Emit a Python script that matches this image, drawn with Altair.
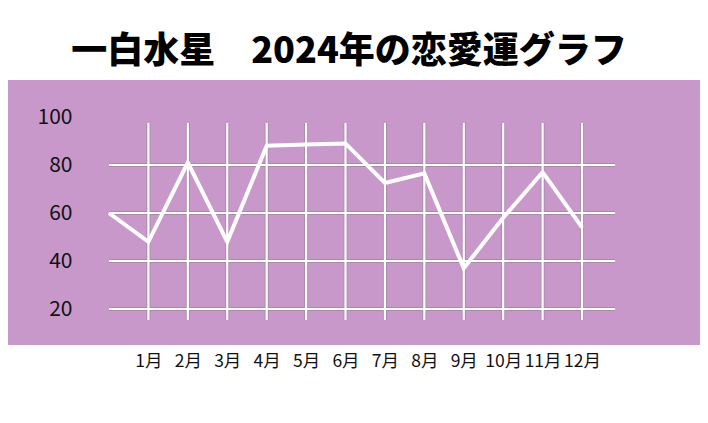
import json
import altair as alt
import pandas as pd

# ---- data ----
# index 0 is the starting point of the line (left edge of grid), 1..12 are months
point_index = [0, 1, 2, 3, 4, 5, 6, 7, 8, 9, 10, 11, 12]
luck_values = [60, 48, 81, 48, 88, 88.5, 89, 72.5, 76.5, 37, 58, 77, 54]
month_ticks = [1, 2, 3, 4, 5, 6, 7, 8, 9, 10, 11, 12]
month_labels = ["1月", "2月", "3月", "4月", "5月", "6月",
                "7月", "8月", "9月", "10月", "11月", "12月"]
y_ticks = [20, 40, 60, 80, 100]
h_grid = [20, 40, 60, 80]

title_text = "一白水星　2024年の恋愛運グラフ"

PURPLE = "#C998CB"
SHADOW = "#A98AAB"
FONT = "Noto Sans CJK JP"

line_df = pd.DataFrame({"x": point_index, "v": luck_values})
hgrid_df = pd.DataFrame({"v": h_grid})
vgrid_df = pd.DataFrame({"x": month_ticks})

xscale = alt.Scale(domain=[-2.562, 14.993], nice=False, zero=False)
yscale = alt.Scale(domain=[5.0, 115.42], nice=False, zero=False)

GRID_X0, GRID_X1 = 0, 12.84
GRID_Y0, GRID_Y1 = 15.4, 97.5

label_expr = json.dumps(month_labels, ensure_ascii=False) + "[datum.value - 1]"

x_axis = alt.Axis(
    values=month_ticks,
    labelExpr=label_expr,
    ticks=False,
    domain=False,
    grid=False,
    labelPadding=7,
    labelOverlap=False,
    labelFlush=False,
    labelFont=FONT,
    labelFontSize=17.5,
    labelColor="#111111",
    title=None,
)
y_axis = alt.Axis(
    values=y_ticks,
    ticks=False,
    domain=False,
    grid=False,
    offset=-64,
    labelPadding=0,
    labelFont=FONT,
    labelFontSize=21,
    labelColor="#111111",
    labelAlign="right",
    title=None,
)


def hgrid(color, width):
    return alt.Chart(hgrid_df).mark_rule(color=color, strokeWidth=width).encode(
        y=alt.Y("v:Q", scale=yscale, axis=y_axis, title=None),
        x=alt.datum(GRID_X0, scale=xscale, axis=x_axis, title=None),
        x2=alt.datum(GRID_X1),
    )


def vgrid(color, width):
    return alt.Chart(vgrid_df).mark_rule(color=color, strokeWidth=width).encode(
        x=alt.X("x:Q", scale=xscale, axis=x_axis, title=None),
        y=alt.datum(GRID_Y0, scale=yscale, axis=y_axis, title=None),
        y2=alt.datum(GRID_Y1),
    )


line = alt.Chart(line_df).mark_line(color="white", strokeWidth=4).encode(
    x=alt.X("x:Q", scale=xscale, title=None, axis=x_axis),
    y=alt.Y("v:Q", scale=yscale, title=None, axis=y_axis),
)

chart = alt.layer(
    hgrid(SHADOW, 4),
    vgrid(SHADOW, 4),
    hgrid("white", 2.2),
    vgrid("white", 2.2),
    line,
).properties(
    width=692,
    height=265,
    autosize=alt.AutoSizeParams(type="none"),
    padding={"left": 0, "top": 72, "right": 0, "bottom": 40},
    background="white",
    title=alt.TitleParams(
        text=title_text,
        font=FONT,
        fontSize=36,
        fontWeight=900,
        color="black",
        anchor="middle",
        offset=9,
        dx=-5,
    ),
).configure_view(fill=PURPLE, stroke=None)

chart.save("out.html", embed_options={"renderer": "svg", "actions": False})
